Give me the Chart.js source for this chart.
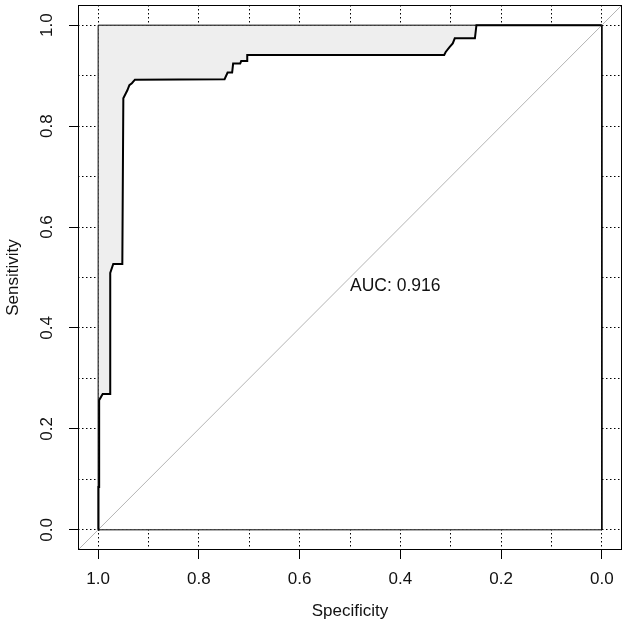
<!DOCTYPE html>
<html>
<head>
<meta charset="utf-8">
<script src="https://cdn.jsdelivr.net/npm/chart.js@4/dist/chart.umd.min.js"></script>
<style>
html, body { margin: 0; padding: 0; background: #fff; }
#wrap { width: 629px; height: 631px; position: relative; }
</style>
</head>
<body>
<div id="wrap"><canvas id="rocChart"></canvas></div>
<script>
// ROC curve (specificity runs 1 -> 0)
const specificity = [1.000, 1.000, 0.999, 0.999, 0.998, 0.998, 0.991, 0.976, 0.976, 0.970, 0.952, 0.950, 0.945, 0.942, 0.938, 0.933, 0.927, 0.749, 0.743, 0.734, 0.732, 0.718, 0.716, 0.704, 0.704, 0.313, 0.310, 0.302, 0.296, 0.292, 0.252, 0.249, 0.000];
const sensitivity = [0.000, 0.053, 0.053, 0.085, 0.085, 0.257, 0.269, 0.269, 0.509, 0.527, 0.527, 0.855, 0.865, 0.871, 0.881, 0.885, 0.892, 0.893, 0.906, 0.906, 0.924, 0.924, 0.929, 0.929, 0.941, 0.941, 0.947, 0.957, 0.964, 0.974, 0.974, 1.000, 1.000];

// unit square outline and chance diagonal
const squareSpec = [1, 1, 0, 0, 1];
const squareSens = [0, 1, 1, 0, 0];
const diagSpec = [1.04, -0.04];
const diagSens = [-0.04, 1.04];

const gridTicks = [0, 0.1, 0.2, 0.3, 0.4, 0.5, 0.6, 0.7, 0.8, 0.9, 1];
const labelTicks = [0, 0.2, 0.4, 0.6, 0.8, 1];
const axisMin = -0.04, axisMax = 1.04;

const aucLabel = 'AUC: 0.916';
const aucAt = [0.5, 0.5];

const FONT = '"Liberation Sans", Arial, sans-serif';
const TXT = '#111';

const toPts = (xs, ys) => xs.map((v, i) => ({ x: v, y: ys[i] }));
const isLabel = v => labelTicks.some(t => Math.abs(t - v) < 1e-6);

const framePlugin = {
    id: 'frame',
    afterDatasetsDraw(c) {
        const { ctx, chartArea: a, scales } = c;
        ctx.save();
        ctx.strokeStyle = '#000';
        ctx.lineWidth = 1;
        ctx.strokeRect(a.left + 0.5, a.top + 0.5, a.right - a.left - 1, a.bottom - a.top - 1);
        ctx.font = '17.5px ' + FONT;
        ctx.fillStyle = TXT;
        ctx.textAlign = 'left';
        ctx.textBaseline = 'top';
        ctx.fillText(aucLabel, scales.x.getPixelForValue(aucAt[0]), scales.y.getPixelForValue(aucAt[1]));
        ctx.restore();
    }
};

function axis(title, extra) {
    return Object.assign({
        type: 'linear',
        min: axisMin,
        max: axisMax,
        afterBuildTicks: s => { s.ticks = gridTicks.map(v => ({ value: v })); },
        ticks: {
            autoSkip: false,
            padding: 10,
            color: TXT,
            font: { family: FONT, size: 17 },
            callback: v => isLabel(v) ? v.toFixed(1) : ''
        },
        grid: {
            color: '#000',
            lineWidth: 1,
            tickLength: 9,
            tickWidth: 1,
            tickBorderDash: [],
            tickColor: c => (c.tick && isLabel(c.tick.value)) ? '#000' : 'rgba(0,0,0,0)'
        },
        border: { display: false, dash: [1.5, 2.5] },
        title: { display: true, text: title, color: TXT, font: { family: FONT, size: 17 } }
    }, extra);
}

// fixed margins like the R plot; drop the label overhang padding
const xAxis = axis('Specificity', {
    reverse: true,
    afterFit: s => { s.height = 81; s.paddingLeft = 0; s.paddingRight = 0; }
});
xAxis.ticks.maxRotation = 0;
xAxis.ticks.minRotation = 0;
xAxis.title.padding = { top: 0, bottom: 9 };

const yAxis = axis('Sensitivity', {
    afterFit: s => { s.width = 78; s.paddingTop = 0; s.paddingBottom = 0; }
});
yAxis.ticks.minRotation = 90;
yAxis.ticks.maxRotation = 90;
yAxis.ticks.crossAlign = 'center';
yAxis.title.padding = { top: 3, bottom: 0 };

const rocPts = toPts(specificity, sensitivity);
const clear = 'rgba(0,0,0,0)';

new Chart(document.getElementById('rocChart'), {
    type: 'line',
    data: {
        datasets: [
            { data: rocPts, borderColor: '#000', borderWidth: 2, fill: false, order: 0 },
            { data: toPts(diagSpec, diagSens), borderColor: '#b4b4b4', borderWidth: 1, fill: false, order: 1 },
            { data: toPts(squareSpec, squareSens), borderColor: '#000', borderWidth: 1, fill: false, order: 2 },
            { data: rocPts, borderColor: clear, borderWidth: 1, fill: { value: 1 }, backgroundColor: '#eeeeee', order: 3 },
            { data: rocPts, borderColor: clear, borderWidth: 1, fill: { value: 0 }, backgroundColor: '#ffffff', order: 4 }
        ]
    },
    options: {
        responsive: true,
        maintainAspectRatio: false,
        animation: false,
        events: [],
        layout: { padding: { top: 5, right: 7, left: 0, bottom: 0 } },
        elements: { point: { radius: 0 }, line: { tension: 0, borderJoinStyle: 'miter' } },
        plugins: { legend: { display: false }, tooltip: { enabled: false } },
        scales: { x: xAxis, y: yAxis }
    },
    plugins: [framePlugin]
});
</script>
</body>
</html>
